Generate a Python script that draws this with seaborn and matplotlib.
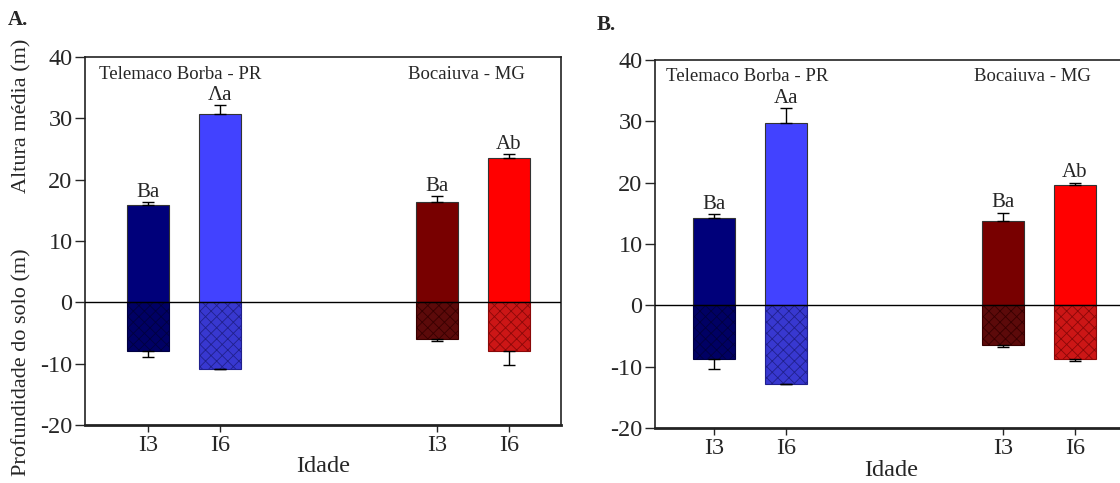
import matplotlib
matplotlib.use("Agg")
import matplotlib.pyplot as plt
import numpy as np
import pandas as pd
import seaborn as sns

# ---- data -------------------------------------------------------------
ages = ["I3", "I6", "I3", "I6"]
sites = ["Telemaco Borba - PR", "Telemaco Borba - PR", "Bocaiuva - MG", "Bocaiuva - MG"]
site_names = ["Telemaco Borba - PR", "Bocaiuva - MG"]
positions = [1, 2, 5, 6]

# Panel A
height_a = [15.8, 30.7, 16.4, 23.6]
height_err_a = [0.5, 1.4, 0.9, 0.6]
depth_a = [-8.0, -10.8, -5.9, -8.0]
depth_err_a = [0.9, 0.0, 0.4, 2.2]
letters_a = ["Ba", "Λa", "Ba", "Ab"]

# Panel B
height_b = [14.2, 29.8, 13.7, 19.7]
height_err_b = [0.7, 2.4, 1.4, 0.3]
depth_b = [-8.8, -12.9, -6.5, -8.7]
depth_err_b = [1.6, 0.0, 0.3, 0.3]
letters_b = ["Ba", "Aa", "Ba", "Ab"]

# ---- styling ------------------------------------------------------------
sns.set_style("ticks")
plt.rcParams["font.family"] = ["Liberation Serif", "DejaVu Serif"]
plt.rcParams["axes.unicode_minus"] = False
plt.rcParams["hatch.linewidth"] = 0.6
plt.rcParams["axes.edgecolor"] = "#222222"

cond = [f"{s} {a}" for s, a in zip(sites, ages)]
top_colors = ["#00007a", "#4242ff", "#780000", "#ff0000"]
bottom_colors = ["#000064", "#3838d0", "#5c0a0a", "#cc1616"]
hatch_colors = ["#000040", "#20208c", "#380000", "#8a0808"]

fig = plt.figure(figsize=(11.2, 4.83), dpi=100)


def draw_panel(ax, heights, h_err, depths, d_err, letters, xlim, label_y):
    df_top = pd.DataFrame({"pos": positions, "val": heights, "cond": cond})
    df_bot = pd.DataFrame({"pos": positions, "val": depths, "cond": cond})

    sns.barplot(data=df_top, x="pos", y="val", hue="cond", palette=top_colors,
                native_scale=True, dodge=False, legend=False, width=0.58,
                saturation=1, errorbar=None, edgecolor="#333333",
                linewidth=0.8, ax=ax)
    n_top = len(ax.patches)
    sns.barplot(data=df_bot, x="pos", y="val", hue="cond", palette=bottom_colors,
                native_scale=True, dodge=False, legend=False, width=0.58,
                saturation=1, errorbar=None, linewidth=0.8, ax=ax)
    for patch, hc in zip(ax.patches[n_top:], hatch_colors):
        patch.set_hatch("xxx")
        patch.set_edgecolor(hc)

    # one-sided error bars
    ax.errorbar(positions, heights, yerr=[np.zeros(4), h_err], fmt="none",
                ecolor="black", elinewidth=1.0, capsize=4, capthick=1.0, zorder=3)
    ax.errorbar(positions, depths, yerr=[d_err, np.zeros(4)], fmt="none",
                ecolor="black", elinewidth=1.0, capsize=4, capthick=1.0, zorder=3)

    for x, h, e, t in zip(positions, heights, h_err, letters):
        ax.text(x, h + e + 0.05, t, ha="center", va="bottom", fontsize=15)

    ax.axhline(0, color="black", lw=1.0, zorder=4)

    ax.text(0.33, label_y, site_names[0], ha="left", va="center", fontsize=13.5)
    ax.text(4.6, label_y, site_names[1], ha="left", va="center", fontsize=13.5)

    ax.set_xlim(*xlim)
    ax.set_ylim(-20, 40)
    ax.set_yticks(np.arange(-20, 41, 10))
    ax.set_xticks(positions)
    ax.set_xticklabels(ages)
    ax.tick_params(axis="y", labelsize=17.5, length=7, width=1.0, direction="out", pad=2)
    ax.tick_params(axis="x", labelsize=17.5, length=5, width=1.0, direction="out", pad=2)
    ax.set_ylabel("")
    for side in ["left", "top", "right"]:
        ax.spines[side].set_linewidth(1.2)
    ax.spines["bottom"].set_linewidth(2.0)


ax_a = fig.add_axes([85 / 1120, 1 - 425 / 483, (561 - 85) / 1120, (425 - 57) / 483])
draw_panel(ax_a, height_a, height_err_a, depth_a, depth_err_a, letters_a,
           (0.13, 6.72), 37.2)
ax_a.set_xlabel("Idade", fontsize=17.5, labelpad=0)

ax_b = fig.add_axes([655 / 1120, 1 - 428 / 483, (1127 - 655) / 1120, (428 - 60) / 483])
draw_panel(ax_b, height_b, height_err_b, depth_b, depth_err_b, letters_b,
           (0.18, 6.72), 37.3)
ax_b.set_xlabel("Idade", fontsize=17.5, labelpad=1)

# two-part vertical axis title for panel A
fig.text(22 / 1120, 1 - 116 / 483, "Altura média (m)", rotation=90,
         ha="center", va="center", fontsize=16)
fig.text(22 / 1120, 1 - 362 / 483, "Profundidade do solo (m)", rotation=90,
         ha="center", va="center", fontsize=16)

fig.text(8 / 1120, 1 - 20 / 483, "A.", fontsize=15, fontweight="bold",
         ha="left", va="center")
fig.text(597 / 1120, 1 - 25 / 483, "B.", fontsize=15, fontweight="bold",
         ha="left", va="center")

fig.savefig("out.png", dpi=100)
